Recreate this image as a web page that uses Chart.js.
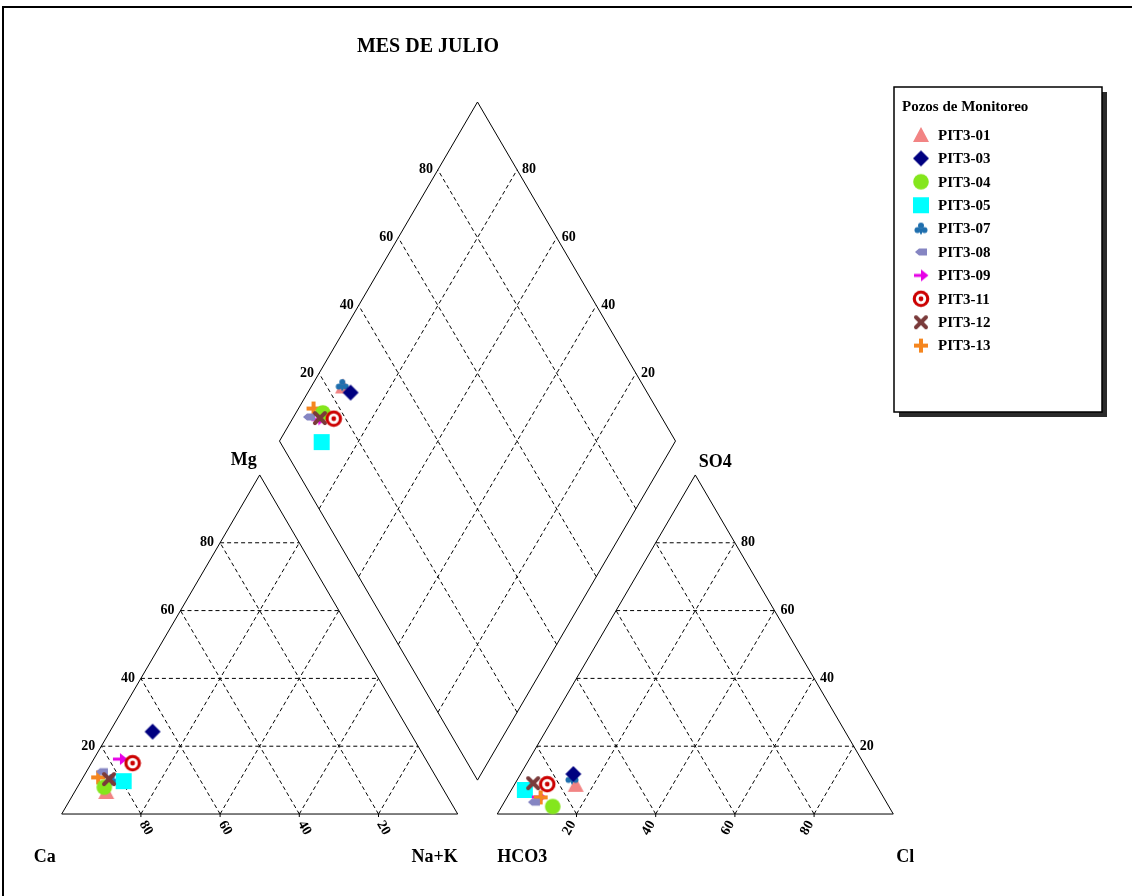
<!DOCTYPE html>
<html>
<head>
<meta charset="utf-8">
<title>Piper - MES DE JULIO</title>
<script src="https://cdn.jsdelivr.net/npm/chart.js@4.4.1/dist/chart.umd.min.js"></script>
<style>
  html, body { margin: 0; padding: 0; background: #fff; }
  canvas { display: block; }
</style>
</head>
<body>
<canvas id="piper" width="1132" height="896"></canvas>
<script>
const WELLS = ['PIT3-01', 'PIT3-03', 'PIT3-04', 'PIT3-05', 'PIT3-07', 'PIT3-08', 'PIT3-09', 'PIT3-11', 'PIT3-12', 'PIT3-13'];

// cationes (%)
const CA  = [85.5, 64.9, 85.3, 79.5, 82.4, 83.6, 77.2, 74.6, 82.9, 85.4];
const MG  = [6.5, 24.3, 7.9, 9.7, 10.0, 12.5, 16.2, 15.0, 10.3, 10.8];
const NAK = [8.0, 10.8, 6.8, 10.8, 7.6, 3.9, 6.6, 10.4, 6.8, 3.8];

// aniones (%)
const HCO3 = [75.9, 74.9, 84.9, 89.5, 75.9, 89.0, 87.0, 83.0, 86.4, 86.6];
const SO4  = [8.6, 11.8, 2.2, 7.1, 10.5, 3.5, 5.0, 8.8, 9.1, 4.9];
const CL   = [15.5, 13.3, 12.9, 3.4, 13.6, 7.5, 8.0, 8.2, 4.5, 8.5];

const TICKS = [20, 40, 60, 80];
const TITLE = 'MES DE JULIO';
const LEGEND_TITLE = 'Pozos de Monitoreo';

// estilos
const COLORS = ['#f28484', '#000080', '#84e61c', '#00ffff', '#1f6fae', '#8585c2', '#e600e6', '#cc0000', '#7a3a3a', '#f5861f'];
const SHAPES = ['triangle', 'diamond', 'circle', 'square', 'club', 'tag', 'arrow', 'target', 'cross', 'plus'];
const Z_ORDER = [10, 8, 4, 7, 9, 3, 6, 1, 2, 5];  // menor = encima
const SERIF = '"Liberation Serif", "Times New Roman", serif';

// geometria del Piper (unidades: lado del triangulo = 100)
const SIDE = 100;
const H = SIDE * Math.sin(Math.PI / 3);
const GAP = 10;
const ANION_X0 = SIDE + GAP;
const DIAMOND_X0 = SIDE + GAP / 2;
const DIAMOND_Y0 = (GAP / 2) * Math.tan(Math.PI / 3);

function cationXY(mg, nak) {
    return [(nak + mg / 2) * SIDE / 100, mg / 100 * H];
}
function anionXY(so4, cl) {
    return [ANION_X0 + (cl + so4 / 2) * SIDE / 100, so4 / 100 * H];
}
// c = Ca+Mg (%), a = SO4+Cl (%)
function diamondXY(c, a) {
    return [DIAMOND_X0 - SIDE / 2 * c / 100 + SIDE / 2 * a / 100, DIAMOND_Y0 + H * (c + a) / 100];
}

// iconos de marcadores
function makeIcon(shape, color) {
    const s = 18, m = s / 2;
    const c = document.createElement('canvas');
    c.width = s; c.height = s;
    const g = c.getContext('2d');
    g.fillStyle = color;
    g.strokeStyle = color;
    g.beginPath();
    switch (shape) {
        case 'triangle':
            g.moveTo(m, 1); g.lineTo(17, 16); g.lineTo(1, 16); g.closePath(); g.fill();
            break;
        case 'diamond':
            g.moveTo(m, 1); g.lineTo(17, m); g.lineTo(m, 17); g.lineTo(1, m); g.closePath(); g.fill();
            break;
        case 'circle':
            g.arc(m, m, 7.8, 0, Math.PI * 2); g.fill();
            break;
        case 'square':
            g.rect(1, 1, 16, 16); g.fill();
            break;
        case 'club':
            g.arc(m, 6, 3, 0, Math.PI * 2); g.fill();
            g.beginPath(); g.arc(5.5, 10.5, 3, 0, Math.PI * 2); g.fill();
            g.beginPath(); g.arc(12.5, 10.5, 3, 0, Math.PI * 2); g.fill();
            g.fillRect(8, 9, 2, 5.5);
            break;
        case 'tag':
            g.moveTo(3, m); g.lineTo(7, 5.5); g.lineTo(15, 5.5); g.lineTo(15, 12.5); g.lineTo(7, 12.5); g.closePath(); g.fill();
            break;
        case 'arrow':
            g.fillRect(2, 7.5, 9, 3);
            g.beginPath(); g.moveTo(9, 3); g.lineTo(16.5, m); g.lineTo(9, 15); g.closePath(); g.fill();
            break;
        case 'target':
            g.arc(m, m, 8.3, 0, Math.PI * 2); g.fill();
            g.beginPath(); g.fillStyle = '#fff'; g.arc(m, m, 5.2, 0, Math.PI * 2); g.fill();
            g.beginPath(); g.fillStyle = color; g.arc(m, m, 2.4, 0, Math.PI * 2); g.fill();
            break;
        case 'cross':
            g.lineWidth = 4; g.lineCap = 'round';
            g.moveTo(4, 4); g.lineTo(14, 14); g.moveTo(14, 4); g.lineTo(4, 14); g.stroke();
            break;
        case 'plus':
            g.lineWidth = 4;
            g.moveTo(m, 2); g.lineTo(m, 16); g.moveTo(2, m); g.lineTo(16, m); g.stroke();
            break;
    }
    return c;
}

const ICONS = SHAPES.map((s, i) => makeIcon(s, COLORS[i]));

const datasets = WELLS.map((name, i) => {
    const catP = cationXY(MG[i], NAK[i]);
    const anP = anionXY(SO4[i], CL[i]);
    const diP = diamondXY(CA[i] + MG[i], SO4[i] + CL[i]);
    return {
        label: name,
        data: [
            { x: catP[0], y: catP[1] },
            { x: anP[0], y: anP[1] },
            { x: diP[0], y: diP[1] }
        ],
        pointStyle: ICONS[i],
        pointRadius: 8,
        pointHoverRadius: 8,
        backgroundColor: COLORS[i],
        borderColor: COLORS[i],
        order: Z_ORDER[i]
    };
});

// dibuja triangulos, rombo, rejilla y rotulos
const piperFrame = {
    id: 'piperFrame',
    beforeDatasetsDraw(chart) {
        const ctx = chart.ctx;
        const xs = chart.scales.x, ys = chart.scales.y;
        const P = p => [xs.getPixelForValue(p[0]), ys.getPixelForValue(p[1])];

        function seg(a, b, dashed) {
            const pa = P(a), pb = P(b);
            ctx.beginPath();
            ctx.setLineDash(dashed ? [4, 3] : []);
            ctx.moveTo(pa[0], pa[1]);
            ctx.lineTo(pb[0], pb[1]);
            ctx.stroke();
        }
        function poly(pts) {
            ctx.beginPath();
            ctx.setLineDash([]);
            pts.forEach((p, i) => {
                const q = P(p);
                if (i === 0) ctx.moveTo(q[0], q[1]); else ctx.lineTo(q[0], q[1]);
            });
            ctx.closePath();
            ctx.stroke();
        }
        function text(t, p, dx, dy, align, size, rot) {
            const q = P(p);
            ctx.save();
            ctx.font = 'bold ' + size + 'px ' + SERIF;
            ctx.fillStyle = '#000';
            ctx.textAlign = align;
            ctx.textBaseline = 'middle';
            ctx.translate(q[0] + dx, q[1] + dy);
            if (rot) ctx.rotate(rot);
            ctx.fillText(t, 0, 0);
            ctx.restore();
        }

        ctx.save();
        // marco de la captura
        ctx.strokeStyle = '#000';
        ctx.lineWidth = 2;
        ctx.beginPath();
        ctx.moveTo(3, 896); ctx.lineTo(3, 7); ctx.lineTo(1132, 7);
        ctx.stroke();

        // titulo
        ctx.font = 'bold 20px ' + SERIF;
        ctx.fillStyle = '#000';
        ctx.textAlign = 'center';
        ctx.textBaseline = 'middle';
        ctx.fillText(TITLE, 428, 47);

        ctx.lineWidth = 1;
        ctx.strokeStyle = '#000';

        // rejilla punteada
        TICKS.forEach(k => {
            seg(cationXY(k, 0), cationXY(k, 100 - k), true);
            seg(cationXY(0, k), cationXY(100 - k, k), true);
            seg(cationXY(0, 100 - k), cationXY(100 - k, 0), true);
            seg(anionXY(k, 0), anionXY(k, 100 - k), true);
            seg(anionXY(0, k), anionXY(100 - k, k), true);
            seg(anionXY(0, 100 - k), anionXY(100 - k, 0), true);
            seg(diamondXY(k, 0), diamondXY(k, 100), true);
            seg(diamondXY(0, k), diamondXY(100, k), true);
        });

        // contornos
        poly([cationXY(0, 0), cationXY(0, 100), cationXY(100, 0)]);
        poly([anionXY(0, 0), anionXY(0, 100), anionXY(100, 0)]);
        poly([diamondXY(0, 0), diamondXY(100, 0), diamondXY(100, 100), diamondXY(0, 100)]);

        // marcas en las bases
        TICKS.forEach(k => {
            [cationXY(0, k), anionXY(0, k)].forEach(p => {
                const q = P(p);
                ctx.beginPath();
                ctx.setLineDash([]);
                ctx.moveTo(q[0], q[1]);
                ctx.lineTo(q[0], q[1] + 3);
                ctx.stroke();
            });
        });

        // rotulos de ejes
        TICKS.forEach(k => {
            const t = String(k);
            text(t, cationXY(k, 0), -6, 0, 'right', 14);
            text(t, cationXY(0, 100 - k), 5, 14, 'center', 14, Math.PI / 3);
            text(t, anionXY(0, k), -7, 14, 'center', 14, -Math.PI / 3);
            text(t, anionXY(k, 100 - k), 6, 0, 'left', 14);
            text(t, diamondXY(100, k), -5, 0, 'right', 14);
            text(t, diamondXY(k, 100), 5, 0, 'left', 14);
        });

        // vertices
        text('Mg', cationXY(100, 0), -16, -15, 'center', 18);
        text('SO4', anionXY(100, 0), 20, -13, 'center', 18);
        text('Ca', cationXY(0, 0), -28, 43, 'left', 18);
        text('Na+K', cationXY(0, 100), 0, 43, 'right', 18);
        text('HCO3', anionXY(0, 0), 0, 43, 'left', 18);
        text('Cl', anionXY(0, 100), 3, 43, 'left', 18);

        ctx.restore();
    },
    afterDatasetsDraw(chart) {
        const ctx = chart.ctx;
        const box = { x: 894, y: 87, w: 208, h: 325 };
        ctx.save();
        ctx.setLineDash([]);
        // sombra
        ctx.fillStyle = '#2b2b2b';
        ctx.fillRect(box.x + 5, box.y + 5, box.w, box.h);
        ctx.fillStyle = '#fff';
        ctx.fillRect(box.x, box.y, box.w, box.h);
        ctx.strokeStyle = '#000';
        ctx.lineWidth = 1.5;
        ctx.strokeRect(box.x, box.y, box.w, box.h);

        ctx.fillStyle = '#000';
        ctx.textBaseline = 'middle';
        ctx.textAlign = 'left';
        ctx.font = 'bold 15px ' + SERIF;
        ctx.fillText(LEGEND_TITLE, box.x + 8, 107);

        chart.data.datasets.forEach((ds, i) => {
            const cy = 135 + i * 23.4;
            const img = ds.pointStyle;
            ctx.drawImage(img, 921 - img.width / 2, cy - img.height / 2);
            ctx.fillStyle = '#000';
            ctx.fillText(ds.label, 938, cy + 1);
        });
        ctx.restore();
    }
};

new Chart(document.getElementById('piper'), {
    type: 'scatter',
    data: { datasets },
    options: {
        responsive: false,
        devicePixelRatio: 1,
        animation: false,
        layout: { padding: 0, autoPadding: false },
        plugins: {
            legend: { display: false },
            title: { display: false },
            tooltip: {
                callbacks: {
                    label: c => {
                        const i = c.datasetIndex;
                        return `${WELLS[i]}: Ca ${CA[i]}%, Mg ${MG[i]}%, Na+K ${NAK[i]}% | HCO3 ${HCO3[i]}%, SO4 ${SO4[i]}%, Cl ${CL[i]}%`;
                    }
                }
            }
        },
        scales: {
            x: { type: 'linear', min: -15.58, max: 270.28, display: false },
            y: { type: 'linear', min: -20.94, max: 207.92, display: false }
        }
    },
    plugins: [piperFrame]
});
</script>
</body>
</html>
